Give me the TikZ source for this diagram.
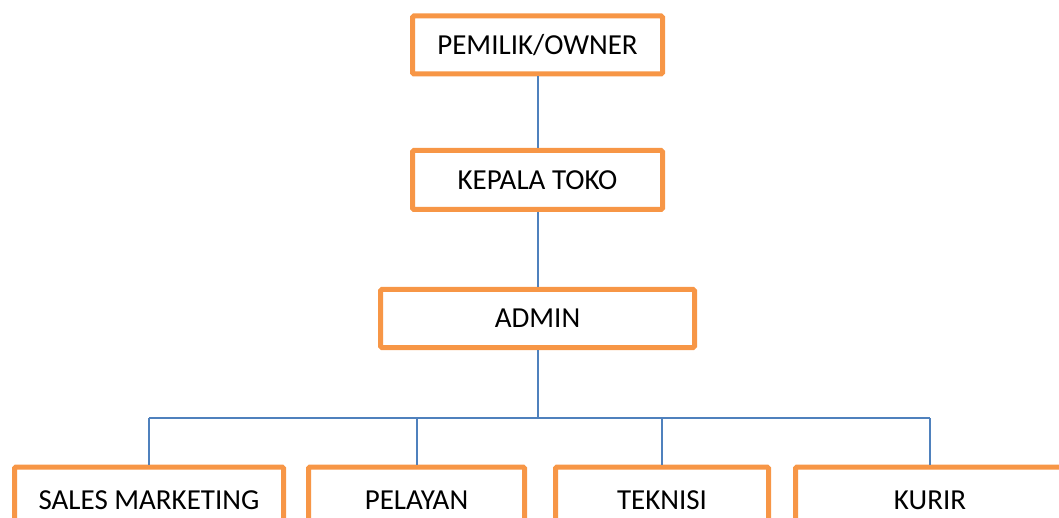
\documentclass[tikz,border=0pt]{standalone}
\usepackage{fontspec}
\setmainfont{Carlito}
\usetikzlibrary{positioning}
\definecolor{boxorange}{HTML}{F79646}
\definecolor{lineblue}{HTML}{4F81BD}

\begin{document}
\begin{tikzpicture}[x=1pt,y=-1pt]
\useasboundingbox (0,0) rectangle (1059,518);
\clip (0,0) rectangle (1059,518);

% 1. Koordinaten der Kaesten
\coordinate (p1) at (537.5,45);
\coordinate (p2) at (537.5,180);
\coordinate (p3) at (537.5,318.5);
\coordinate (bus) at (537.5,418);

\coordinate (q1) at (149,500);
\coordinate (q2) at (416.5,500);
\coordinate (q3) at (662,500);
\coordinate (q4) at (930,500);

% 2. Stile definieren
\tikzset{
  org box/.style={
    draw=boxorange,
    line width=5pt,
    rounded corners=1.5pt,
    fill=white,
    inner sep=0pt,
    minimum height=58pt,
    font=\fontsize{29}{34}\selectfont
  },
  org line/.style={
    draw=lineblue,
    line width=2pt
  }
}

% 3. Kaesten
\node [org box, minimum width=250pt] (owner) at (p1) {PEMILIK/OWNER};
\node [org box, minimum width=250pt, minimum height=59pt] (kepala) at (p2) {KEPALA TOKO};
\node [org box, minimum width=314pt] (admin) at (p3) {ADMIN};

\node [org box, minimum width=269pt, minimum height=66pt] (sales) at (q1) {SALES MARKETING};
\node [org box, minimum width=216pt, minimum height=66pt] (pelayan) at (q2) {PELAYAN};
\node [org box, minimum width=213pt, minimum height=66pt] (teknisi) at (q3) {TEKNISI};
\node [org box, minimum width=269pt, minimum height=66pt] (kurir) at (q4) {KURIR};

% 4. Linien
\draw [org line] (owner) -- (kepala);
\draw [org line] (kepala) -- (admin);
\draw [org line] (admin) -- (bus);
\draw [org line] (bus -| sales.north) -- (bus -| kurir.north);
\draw [org line] (bus -| sales.north) -- (sales.north);
\draw [org line] (bus -| pelayan.north) -- (pelayan.north);
\draw [org line] (bus -| teknisi.north) -- (teknisi.north);
\draw [org line] (bus -| kurir.north) -- (kurir.north);

\end{tikzpicture}
\end{document}
